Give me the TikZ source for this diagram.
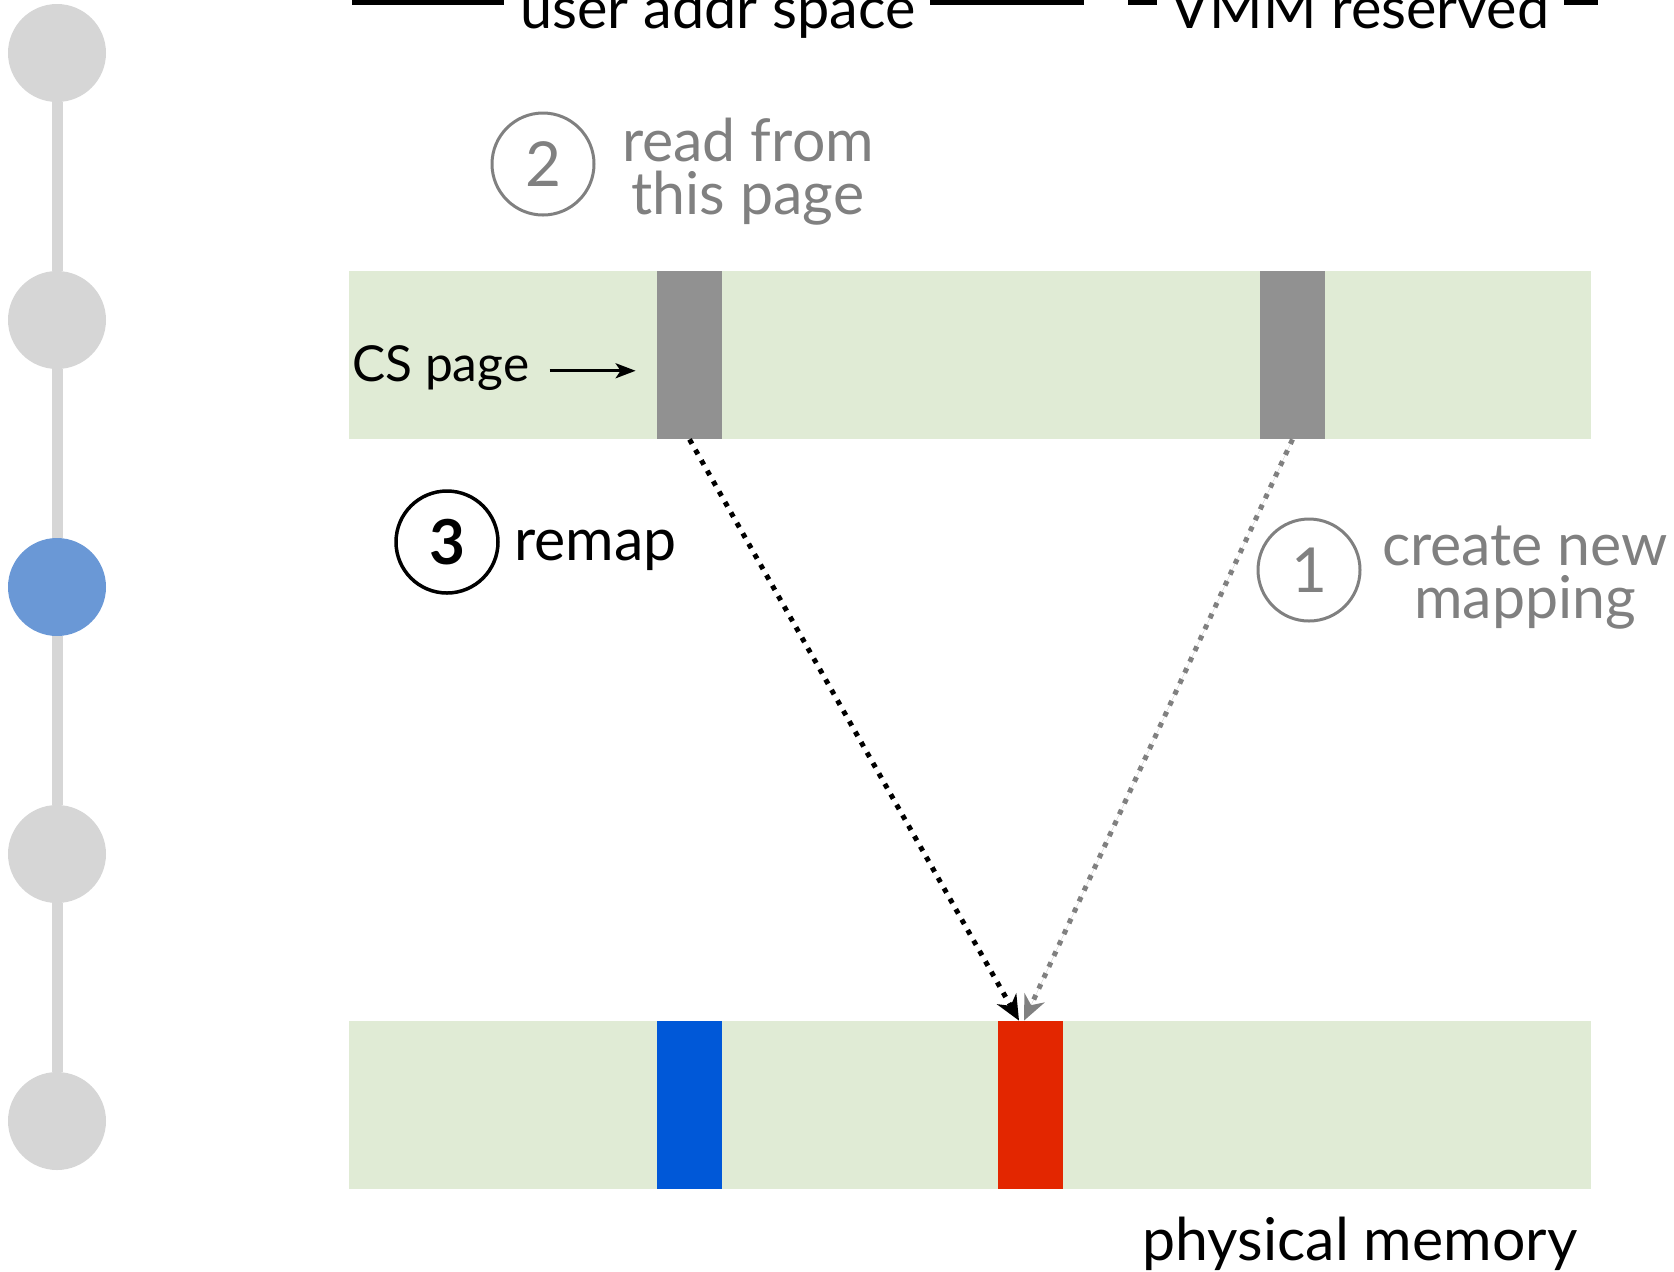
\documentclass[tikz,border=0pt]{standalone}
\usepackage{fontspec}
\setmainfont{Lato}
\usetikzlibrary{arrows.meta,positioning}
\definecolor{railGray}{HTML}{D6D6D6}
\definecolor{railBlue}{HTML}{6A98D6}
\definecolor{barGreen}{HTML}{E0EBD5}
\definecolor{pageGray}{HTML}{919191}
\definecolor{frameBlue}{HTML}{0058D8}
\definecolor{frameRed}{HTML}{E32600}
\definecolor{noteGray}{HTML}{808080}
\tikzset{
  stage dot/.style={circle, minimum size=49pt, inner sep=0, fill=railGray},
  stage rail/.style={draw=railGray, line width=5.5pt},
  mem bar/.style={minimum width=621pt, minimum height=84pt, inner sep=0, fill=barGreen},
  page/.style={minimum width=32.5pt, minimum height=84pt, inner sep=0},
  span line/.style={draw=black, line width=2.5pt},
  big text/.style={inner sep=0, font=\fontsize{29.5}{36}\selectfont},
  note text/.style={inner sep=0, align=center, text=noteGray, font=\fontsize{29.5}{26.5}\selectfont},
  step ring/.style={circle, minimum size=51pt, inner sep=0, line width=1.5pt,
    font=\fontsize{31}{36}\selectfont},
  map arrow/.style={-{Stealth[length=12.5pt,width=11pt,inset=4pt]}, line width=2.5pt,
    dash pattern=on 2.5pt off 3.5pt},
  label arrow/.style={-{Stealth[length=10pt,width=7.5pt,inset=2.5pt]}, line width=1.5pt}
}
\begin{document}
\begin{tikzpicture}[x=0.5pt,y=-0.5pt]
  \useasboundingbox (0,0) rectangle (1674,1271);
  \clip (0,0) rectangle (1674,1271);

  % progress rail on the left
  \foreach \i/\y/\c in {1/53/railGray,2/320/railGray,3/587/railBlue,4/854/railGray,5/1121/railGray}
    \node[stage dot, fill=\c] (t\i) at (57,\y) {};
  \foreach \i [evaluate=\i as \j using int(\i+1)] in {1,...,4}
    \draw[stage rail] (t\i.south) -- (t\j.north);

  % address space headers
  \node[big text, font=\fontsize{28.8}{36}\selectfont, anchor=base] (user) at (718,28) {user addr space};
  \node[big text, font=\fontsize{28.8}{36}\selectfont, anchor=base] (vmm) at (1360,28) {VMM reserved};
  \draw[span line, shorten >=8pt] (352,2.5) -- (user.west |- 0,2.5);
  \draw[span line, shorten <=7pt] (user.east |- 0,2.5) -- (1084,2.5);
  \draw[span line, shorten >=6.5pt] (1128,2.5) -- (vmm.west |- 0,2.5);
  \draw[span line, shorten <=7pt] (vmm.east |- 0,2.5) -- (1598,2.5);

  % virtual and physical memory bars
  \node[mem bar] (vspace) at (970,355) {};
  \node[mem bar] (pmem) at (970,1105) {};
  \node[page, fill=pageGray] (cs) at (689.5,355) {};
  \node[page, fill=pageGray] (vmmpage) at (1292.5,355) {};
  \node[page, fill=frameBlue] (oldframe) at (689.5,1105) {};
  \node[page, fill=frameRed] (newframe) at (1030.5,1105) {};

  \node[big text, font=\fontsize{24.8}{30}\selectfont, anchor=base west] (cslabel) at (352,381) {CS page};
  \coordinate (cstail) at ([yshift=-1.6pt]cslabel.east);
  \draw[label arrow, shorten <=10pt, shorten >=10.5pt] (cstail) -- (cs.west |- cstail);
  \node[big text, anchor=base] (physlabel) at (1360,1260) {physical memory};

  % numbered steps
  \node[step ring, draw=noteGray, text=noteGray] (s2) at (543,164) {2};
  \node[note text] (s2text) at (748,172) {read from\\this page};
  \node[step ring, draw=black, text=black, line width=1.75pt] (s3) at (447,542) {\textbf{3}};
  \node[big text, anchor=base west] (s3text) at (514,560) {remap};
  \node[step ring, draw=noteGray, text=noteGray] (s1) at (1309,570) {1};
  \node[note text] (s1text) at (1525,578) {create new\\mapping};

  % mappings into the new frame
  \draw[map arrow, draw=black] (cs.south) -- ([xshift=-5.75pt]newframe.north);
  \draw[map arrow, draw=noteGray, fill=noteGray] (vmmpage.south) -- ([xshift=-3.25pt]newframe.north);
\end{tikzpicture}
\end{document}
